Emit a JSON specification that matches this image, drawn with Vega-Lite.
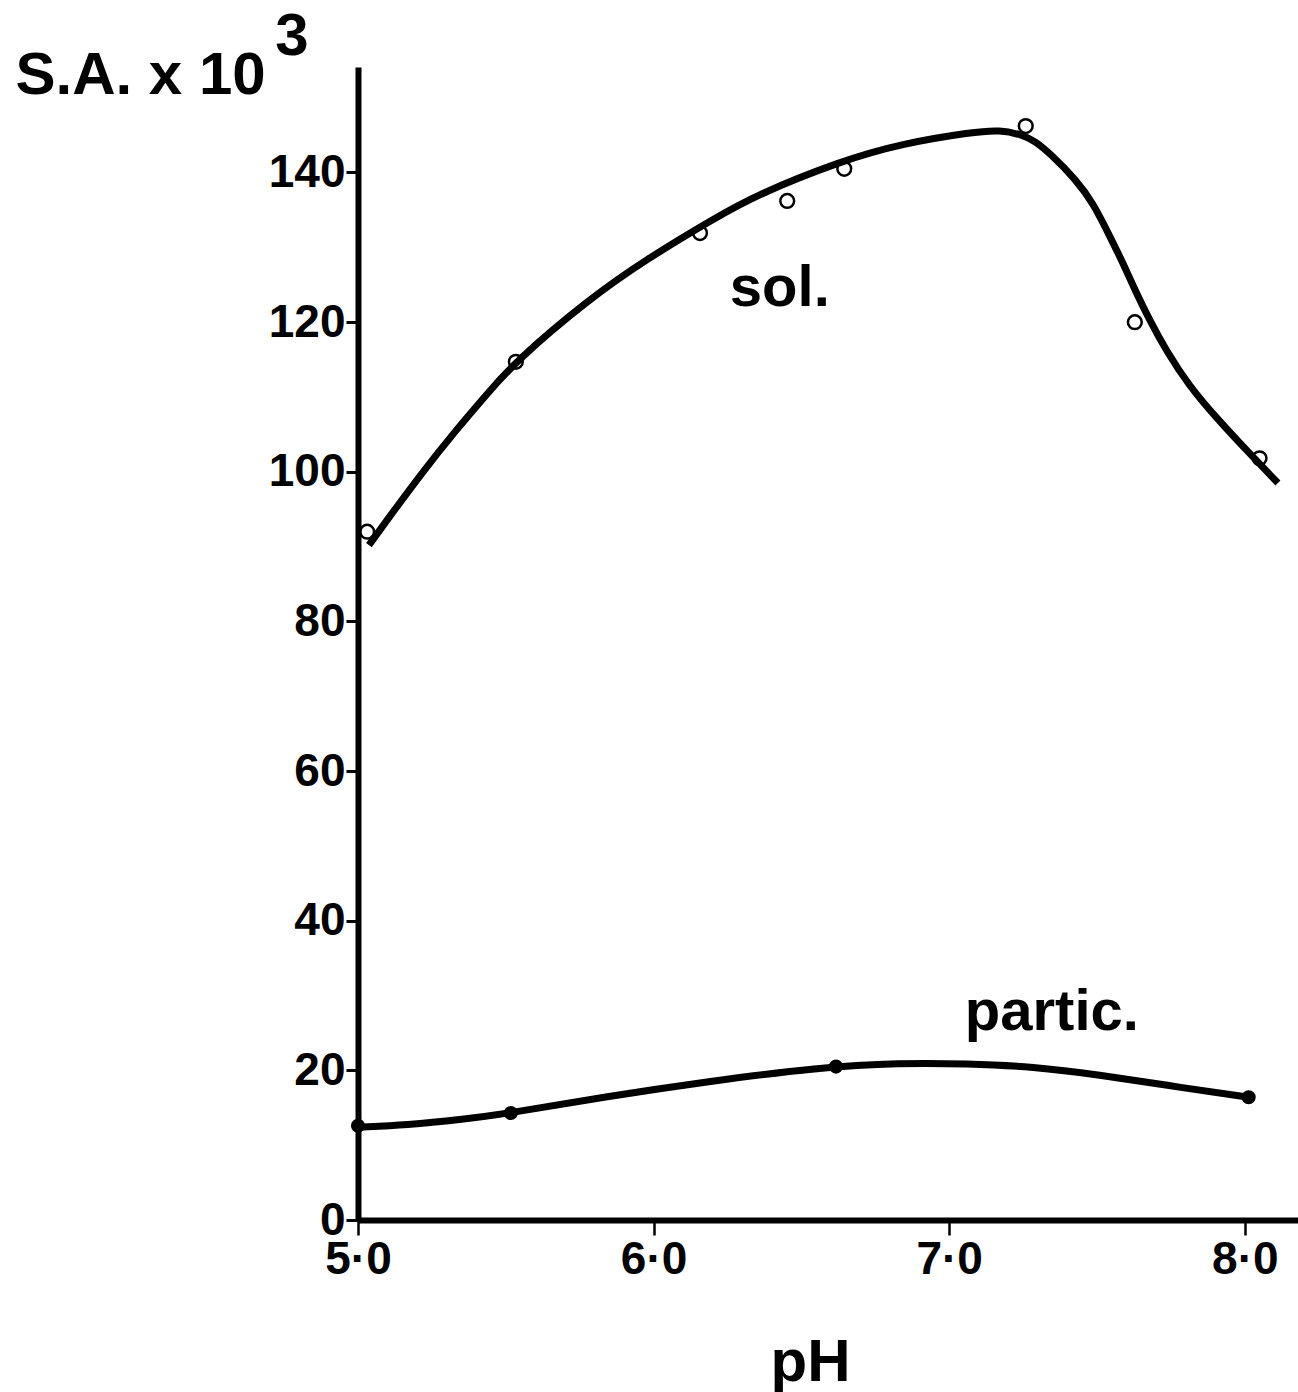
{
  "$schema": "https://vega.github.io/schema/vega-lite/v6.json",
  "width": 940,
  "height": 1153,
  "autosize": {"type": "none"},
  "padding": {"left": 358, "top": 67, "right": 0, "bottom": 172},
  "background": "white",
  "config": {
    "font": "Liberation Sans",
    "view": {"stroke": null},
    "axis": {
      "grid": false,
      "domainColor": "black",
      "domainWidth": 6,
      "tickColor": "black",
      "labelColor": "black",
      "titleColor": "black",
      "labelFont": "Liberation Sans",
      "titleFont": "Liberation Sans",
      "labelFontWeight": "bold",
      "titleFontWeight": "bold",
      "labelFontSize": 46,
      "titleFontSize": 60
    }
  },
  "datasets": {
    "curves": [
      {"series": "sol.", "pH": 5.037, "sa": 90.2},
      {"series": "sol.", "pH": 5.103, "sa": 93.8},
      {"series": "sol.", "pH": 5.215, "sa": 99.8},
      {"series": "sol.", "pH": 5.328, "sa": 105.4},
      {"series": "sol.", "pH": 5.441, "sa": 110.6},
      {"series": "sol.", "pH": 5.534, "sa": 114.8},
      {"series": "sol.", "pH": 5.779, "sa": 123.0},
      {"series": "sol.", "pH": 5.971, "sa": 128.3},
      {"series": "sol.", "pH": 6.207, "sa": 133.9},
      {"series": "sol.", "pH": 6.348, "sa": 137.0},
      {"series": "sol.", "pH": 6.630, "sa": 141.5},
      {"series": "sol.", "pH": 6.844, "sa": 143.9},
      {"series": "sol.", "pH": 7.081, "sa": 145.4},
      {"series": "sol.", "pH": 7.171, "sa": 145.7},
      {"series": "sol.", "pH": 7.250, "sa": 145.0},
      {"series": "sol.", "pH": 7.290, "sa": 144.2},
      {"series": "sol.", "pH": 7.340, "sa": 142.6},
      {"series": "sol.", "pH": 7.430, "sa": 139.0},
      {"series": "sol.", "pH": 7.487, "sa": 135.9},
      {"series": "sol.", "pH": 7.543, "sa": 131.5},
      {"series": "sol.", "pH": 7.588, "sa": 127.9},
      {"series": "sol.", "pH": 7.633, "sa": 123.9},
      {"series": "sol.", "pH": 7.678, "sa": 120.3},
      {"series": "sol.", "pH": 7.734, "sa": 116.2},
      {"series": "sol.", "pH": 7.813, "sa": 111.4},
      {"series": "sol.", "pH": 7.904, "sa": 107.2},
      {"series": "sol.", "pH": 8.017, "sa": 102.4},
      {"series": "sol.", "pH": 8.112, "sa": 98.5},
      {"series": "partic.", "pH": 5.007, "sa": 12.4},
      {"series": "partic.", "pH": 5.165, "sa": 12.7},
      {"series": "partic.", "pH": 5.345, "sa": 13.4},
      {"series": "partic.", "pH": 5.517, "sa": 14.3},
      {"series": "partic.", "pH": 5.841, "sa": 16.5},
      {"series": "partic.", "pH": 6.179, "sa": 18.5},
      {"series": "partic.", "pH": 6.562, "sa": 20.4},
      {"series": "partic.", "pH": 6.833, "sa": 21.0},
      {"series": "partic.", "pH": 7.059, "sa": 20.9},
      {"series": "partic.", "pH": 7.284, "sa": 20.5},
      {"series": "partic.", "pH": 7.509, "sa": 19.4},
      {"series": "partic.", "pH": 7.735, "sa": 18.0},
      {"series": "partic.", "pH": 8.013, "sa": 16.4}
    ],
    "points": [
      {"series": "sol.", "pH": 5.031, "sa": 92.0},
      {"series": "sol.", "pH": 5.534, "sa": 114.7},
      {"series": "sol.", "pH": 6.157, "sa": 131.9},
      {"series": "sol.", "pH": 6.452, "sa": 136.2},
      {"series": "sol.", "pH": 6.645, "sa": 140.5},
      {"series": "sol.", "pH": 7.259, "sa": 146.2},
      {"series": "sol.", "pH": 7.628, "sa": 120.0},
      {"series": "sol.", "pH": 8.050, "sa": 101.8},
      {"series": "partic.", "pH": 5.0, "sa": 12.6},
      {"series": "partic.", "pH": 5.517, "sa": 14.3},
      {"series": "partic.", "pH": 6.617, "sa": 20.5},
      {"series": "partic.", "pH": 8.013, "sa": 16.4}
    ]
  },
  "layer": [
    {
      "data": {"name": "curves"},
      "mark": {"type": "line", "color": "black", "strokeWidth": 7, "interpolate": "basis"},
      "encoding": {
        "x": {
          "field": "pH",
          "type": "quantitative",
          "scale": {"domain": [5, 8.18], "nice": false, "zero": false},
          "axis": {
            "values": [5, 6, 7, 8],
            "labelExpr": "replace(format(datum.value, '.1f'), '.', '·')",
            "labelFlush": false,
            "labelOverlap": false,
            "tickSize": 15,
            "tickWidth": 2.5,
            "labelPadding": 2,
            "title": "pH",
            "titleX": 452,
            "titleY": 160,
            "titleAlign": "center",
            "titleBaseline": "alphabetic"
          }
        },
        "y": {
          "field": "sa",
          "type": "quantitative",
          "scale": {"domain": [0, 154.1], "nice": false, "zero": true},
          "axis": {
            "values": [0, 20, 40, 60, 80, 100, 120, 140],
            "labelFlush": false,
            "labelOverlap": false,
            "tickSize": 12,
            "tickWidth": 3,
            "labelPadding": 1,
            "title": "S.A. x 10",
            "titleAngle": 0,
            "titleAlign": "left",
            "titleBaseline": "alphabetic",
            "titleX": -343,
            "titleY": 26
          }
        },
        "detail": {"field": "series"}
      }
    },
    {
      "data": {"name": "points"},
      "transform": [{"filter": "datum.series === 'sol.'"}],
      "mark": {"type": "point", "shape": "circle", "size": 190, "filled": false, "stroke": "black", "strokeWidth": 2.5, "opacity": 1},
      "encoding": {
        "x": {"field": "pH", "type": "quantitative"},
        "y": {"field": "sa", "type": "quantitative"}
      }
    },
    {
      "data": {"name": "points"},
      "transform": [{"filter": "datum.series === 'partic.'"}],
      "mark": {"type": "point", "shape": "circle", "size": 200, "filled": true, "color": "black", "opacity": 1},
      "encoding": {
        "x": {"field": "pH", "type": "quantitative"},
        "y": {"field": "sa", "type": "quantitative"}
      }
    },
    {
      "data": {"values": [{"label": "sol."}]},
      "mark": {"type": "text", "font": "Liberation Sans", "fontWeight": "bold", "fontSize": 58, "align": "left", "baseline": "alphabetic", "color": "black"},
      "encoding": {
        "x": {"datum": 6.258, "type": "quantitative"},
        "y": {"datum": 122.1, "type": "quantitative"},
        "text": {"field": "label"}
      }
    },
    {
      "data": {"values": [{"label": "partic."}]},
      "mark": {"type": "text", "font": "Liberation Sans", "fontWeight": "bold", "fontSize": 58, "align": "left", "baseline": "alphabetic", "color": "black"},
      "encoding": {
        "x": {"datum": 7.053, "type": "quantitative"},
        "y": {"datum": 25.4, "type": "quantitative"},
        "text": {"field": "label"}
      }
    },
    {
      "data": {"values": [{"label": "3"}]},
      "mark": {"type": "text", "font": "Liberation Sans", "fontWeight": "bold", "fontSize": 60, "align": "left", "baseline": "alphabetic", "color": "black", "clip": false},
      "encoding": {
        "x": {"datum": 4.72, "type": "quantitative"},
        "y": {"datum": 155.7, "type": "quantitative"},
        "text": {"field": "label"}
      }
    }
  ]
}
